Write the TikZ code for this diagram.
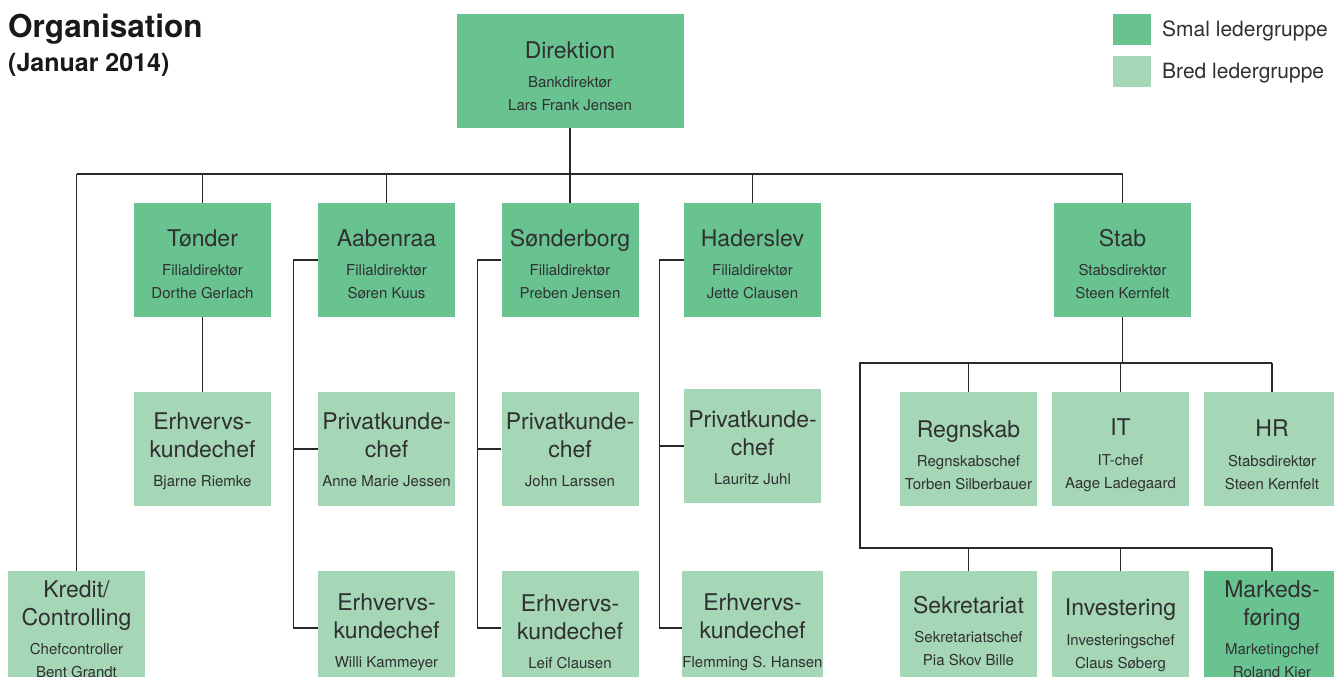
\documentclass[tikz,border=0pt]{standalone}
\usepackage{fontspec}
\setmainfont{TeX Gyre Heros}
\definecolor{smal}{RGB}{104,195,145}
\definecolor{bred}{RGB}{165,214,182}
\definecolor{txt}{RGB}{48,48,48}
\definecolor{linec}{RGB}{40,40,40}
\newcommand\ttl[1]{{\fontsize{23}{28}\selectfont #1}}
\newcommand\dn[1]{\rule{0pt}{#1pt}}
\tikzset{
  box/.style={minimum width=137pt, minimum height=114pt, inner sep=0pt, align=center, text=txt, font=\fontsize{15}{23}\selectfont},
  smalbox/.style={box, fill=smal},
  bredbox/.style={box, fill=bred},
  conn/.style={draw=linec, line width=1.3pt},
  legtxt/.style={anchor=base west, inner sep=0pt, text=txt, font=\fontsize{21}{21}\selectfont},
  legsq/.style={minimum width=38pt, minimum height=31pt, inner sep=0pt}
}
\begin{document}
\begin{tikzpicture}[x=1pt,y=-1pt]
\useasboundingbox (0,0) rectangle (1334,677);
\clip (0,0) rectangle (1334,677);
% title
\node[anchor=base west, inner sep=0pt, font=\bfseries\fontsize{31.5}{32}\selectfont, text=black!90] (title) at (8,38) {Organisation};
\node[anchor=base west, inner sep=0pt, font=\bfseries\fontsize{25}{25}\selectfont, text=black!90] (date) at (8,71) {(Januar 2014)};
% legend
\node[legsq, fill=smal] (lsmal) at (1132,29.5) {};
\node[legtxt] (lsmaltxt) at (1162,36.5) {Smal ledergruppe};
\node[legsq, fill=bred] (lbred) at (1132,71.5) {};
\node[legtxt] (lbredtxt) at (1162,78.5) {Bred ledergruppe};
% top
\node[smalbox, minimum width=227pt] (dir) at (570,71) {\dn{27}\ttl{Direktion}\\[6pt]Bankdirektør\\Lars Frank Jensen};
% row 1
\node[smalbox] (toe) at (202.5,260) {\dn{25}\ttl{Tønder}\\[6pt]Filialdirektør\\Dorthe Gerlach};
\node[smalbox] (aab) at (386.5,260) {\dn{25}\ttl{Aabenraa}\\[6pt]Filialdirektør\\Søren Kuus};
\node[smalbox] (son) at (570,260) {\dn{25}\ttl{Sønderborg}\\[6pt]Filialdirektør\\Preben Jensen};
\node[smalbox] (had) at (752.5,260) {\dn{25}\ttl{Haderslev}\\[6pt]Filialdirektør\\Jette Clausen};
\node[smalbox] (stab) at (1122.5,260) {\dn{25}\ttl{Stab}\\[6pt]Stabsdirektør\\Steen Kernfelt};
% row 2
\node[bredbox] (toeE) at (202.5,449) {\dn{21}\ttl{Erhvervs-}\\[5pt]\ttl{kundechef}\\[6pt]Bjarne Riemke};
\node[bredbox] (aabP) at (386.5,449) {\dn{19}\ttl{Privatkunde-}\\[5pt]\ttl{chef}\\[6pt]Anne Marie Jessen};
\node[bredbox] (sonP) at (570,449) {\dn{19}\ttl{Privatkunde-}\\[5pt]\ttl{chef}\\[6pt]John Larssen};
\node[bredbox] (hadP) at (752.5,446) {\dn{21}\ttl{Privatkunde-}\\[5pt]\ttl{chef}\\[6pt]Lauritz Juhl};
\node[bredbox] (regn) at (968.5,449) {\dn{29}\ttl{Regnskab}\\[6pt]Regnskabschef\\Torben Silberbauer};
\node[bredbox] (it) at (1120.5,449) {\dn{29}\ttl{IT}\\[7pt]IT-chef\\Aage Ladegaard};
\node[bredbox] (hr) at (1272,449) {\dn{29}\ttl{HR}\\[7pt]Stabsdirektør\\Steen Kernfelt};
% row 3
\node[bredbox] (kredit) at (76.5,628) {\dn{20}\ttl{Kredit/}\\[5pt]\ttl{Controlling}\\[6pt]Chefcontroller\\Bent Grandt};
\node[bredbox] (aabE) at (386.5,628) {\dn{25}\ttl{Erhvervs-}\\[5pt]\ttl{kundechef}\\[6pt]Willi Kammeyer};
\node[bredbox] (sonE) at (570,628) {\dn{25}\ttl{Erhvervs-}\\[5pt]\ttl{kundechef}\\[6pt]Leif Clausen};
\node[bredbox] (hadE) at (752.5,628) {\dn{25}\ttl{Erhvervs-}\\[5pt]\ttl{kundechef}\\[6pt]Flemming S. Hansen};
\node[bredbox] (sek) at (968.5,628) {\dn{23}\ttl{Sekretariat}\\[6pt]Sekretariatschef\\Pia Skov Bille};
\node[bredbox] (inv) at (1120.5,628) {\dn{31}\ttl{Investering}\\[7pt]Investeringschef\\Claus Søberg};
\node[smalbox] (mark) at (1272,628) {\dn{20}\ttl{Markeds-}\\[5pt]\ttl{føring}\\[6pt]Marketingchef\\Roland Kier};
% main bus
\coordinate (bus) at (570,174);
\draw[conn] (dir.south) -- (bus);
\draw[conn] (kredit.north |- bus) -- (stab.north |- bus);
\foreach \n in {kredit,toe,aab,son,had,stab} \draw[conn] (\n.north |- bus) -- (\n.north);
% Tønder
\draw[conn] (toe.south) -- (toeE.north);
% branch brackets
\foreach \b/\p/\e in {aab/aabP/aabE, son/sonP/sonE, had/hadP/hadE}{
  \coordinate (L) at ([xshift=-24pt]\b.west);
  \draw[conn] (\b.west) -- (L) |- (\e.west);
  \draw[conn] (L |- \p.west) -- (\p.west);
}
% Stab
\coordinate (sbus) at (1122,363);
\coordinate (sL) at (860,363);
\coordinate (sL2) at (860,548);
\draw[conn] (stab.south) -- (stab.south |- sbus);
\draw[conn] (hr.north |- sbus) -- (sL) -- (sL2) -- (mark.north |- sL2);
\foreach \n in {regn,it,hr} \draw[conn] (\n.north |- sbus) -- (\n.north);
\foreach \n in {sek,inv,mark} \draw[conn] (\n.north |- sL2) -- (\n.north);
\end{tikzpicture}
\end{document}
